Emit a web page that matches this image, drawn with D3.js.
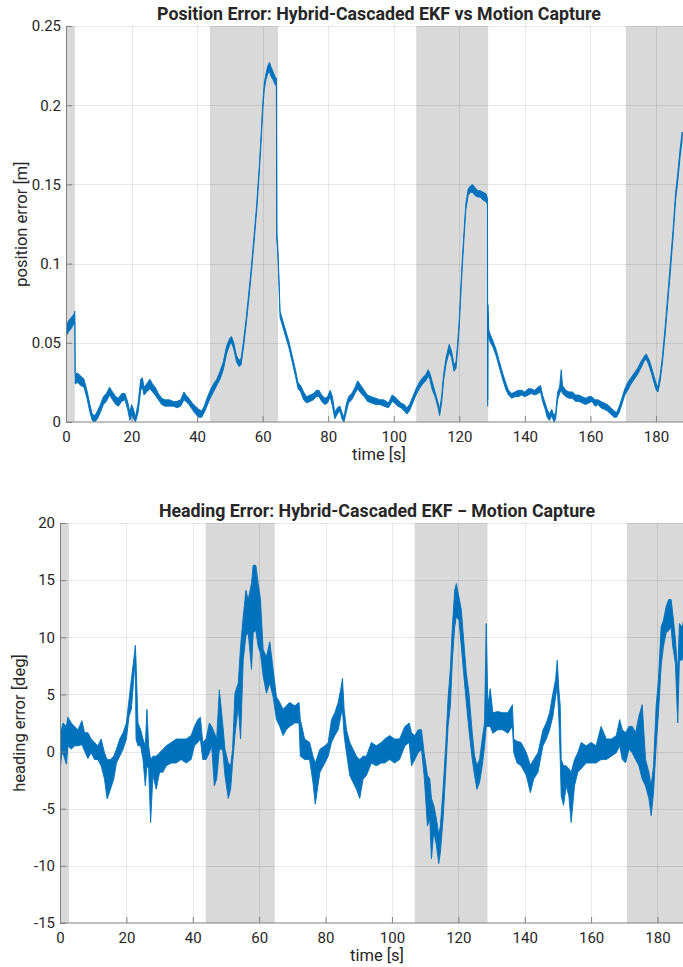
<!DOCTYPE html>
<html>
<head>
<meta charset="utf-8">
<script src="https://cdn.jsdelivr.net/npm/d3@7"></script>
<style>
  body { margin: 0; background: #fff; }
  text { font-family: Roboto, "Liberation Sans", Arial, sans-serif; fill: #262626; }
</style>
</head>
<body>
<svg id="fig" width="683" height="967"></svg>
<script>
// ---- shared time axis ----
const timeTicks = [0, 20, 40, 60, 80, 100, 120, 140, 160, 180];
const timeMax = 191;

// highlighted intervals (s)
const shadeStart = [0, 43.9, 106.85, 170.8];
const shadeEnd   = [2.7, 64.7, 128.8, 191];

// ---- position error [m]: sample time, lower and upper envelope of the noisy trace ----
const posTime = [
  0, 0.8, 1.6, 2.4, 2.7, 2.8, 3.5, 4.5, 5.5, 6.5, 7.3, 8.0,
  8.8, 9.6, 10.5, 11.4, 12.3, 13.3, 14.2, 15.2, 16.0, 17.0, 18.0, 18.8,
  19.5, 20.0, 20.6, 21.2, 22.0, 22.8, 23.3, 23.8, 24.6, 25.6, 26.4, 27.2,
  28.2, 29.2, 30.2, 31.5, 32.8, 33.8, 35.0, 36.0, 36.6, 37.5, 38.5, 39.5,
  40.5, 41.4, 42.2, 43.0, 44.0, 45.0, 46.0, 47.0, 48.0, 49.0, 50.0, 50.5,
  51.2, 52.0, 52.8, 53.4, 54.1, 55.0, 55.8, 56.6, 57.4, 58.2, 58.9, 59.5,
  60.0, 60.5, 61.0, 61.6, 62.1, 62.6, 63.2, 63.8, 64.2, 64.3, 64.6, 65.0,
  65.3, 66.0, 67.0, 68.0, 69.0, 70.0, 70.8, 71.6, 72.5, 73.4, 74.5, 75.5,
  76.4, 77.2, 78.0, 79.0, 79.8, 80.6, 81.3, 82.0, 82.8, 83.6, 84.2, 84.8,
  85.5, 86.2, 87.2, 88.2, 89.0, 90.0, 91.0, 92.0, 93.2, 94.5, 95.8, 97.0,
  98.4, 99.5, 100.3, 101.2, 102.2, 103.2, 104.0, 104.8, 105.8, 106.8, 107.8, 108.8,
  109.8, 110.5, 111.0, 111.8, 112.6, 113.4, 114.0, 114.6, 115.2, 116.0, 116.9, 117.6,
  118.4, 119.0, 119.5, 120.0, 120.5, 121.0, 121.5, 122.0, 122.7, 123.4, 124.0, 124.8,
  125.6, 126.4, 127.3, 128.2, 128.6, 128.65, 128.75, 129.0, 129.5, 130.3, 131.2, 132.0,
  132.8, 133.5, 134.3, 135.0, 136.0, 137.0, 138.0, 139.0, 140.0, 141.0, 142.0, 143.0,
  144.0, 144.8, 145.4, 146.2, 146.8, 147.5, 148.2, 148.9, 149.4, 150.0, 150.6, 151.1,
  151.5, 152.5, 153.5, 154.5, 155.5, 156.5, 157.5, 158.5, 159.5, 160.5, 161.4, 162.3,
  163.2, 164.2, 165.2, 166.2, 167.2, 168.0, 168.8, 169.6, 170.5, 171.4, 172.4, 173.4,
  174.4, 175.4, 176.3, 177.0, 177.8, 178.6, 179.4, 180.1, 180.6, 181.3, 182.0, 182.8,
  183.6, 184.4, 185.2, 186.0, 186.7, 187.4, 188.0
];
const posLow = [
  .054, .057, .059, .062, .063, .024, .025, .023, .022, .014, .006, .001,
  .000, .002, .006, .011, .013, .017, .014, .011, .010, .013, .014, .008,
  .001, .004, .002, .000, .006, .020, .022, .017, .019, .021, .019, .017,
  .014, .011, .010, .010, .010, .009, .010, .014, .013, .011, .008, .005,
  .003, .003, .006, .010, .015, .019, .023, .027, .033, .043, .049, .050,
  .046, .038, .035, .036, .046, .062, .078, .095, .114, .134, .155, .176,
  .196, .210, .216, .220, .221, .218, .216, .213, .212, .115, .108, .085,
  .066, .061, .054, .047, .038, .029, .021, .019, .014, .012, .013, .014,
  .016, .016, .013, .011, .012, .016, .010, .002, .005, .007, .002, .000,
  .006, .012, .014, .018, .021, .018, .016, .013, .012, .011, .011, .010,
  .009, .013, .012, .010, .009, .007, .005, .007, .012, .017, .021, .024,
  .026, .029, .027, .020, .016, .010, .004, .012, .026, .037, .044, .041,
  .032, .034, .046, .061, .082, .101, .118, .134, .143, .145, .145, .143,
  .142, .142, .140, .139, .137, .010, .068, .053, .050, .047, .042, .036,
  .030, .025, .020, .017, .015, .016, .016, .017, .016, .017, .018, .017,
  .018, .019, .013, .008, .003, .001, .004, .000, .002, .014, .018, .020,
  .018, .016, .015, .015, .013, .013, .012, .011, .012, .013, .010, .011,
  .009, .008, .007, .005, .003, .003, .006, .011, .017, .020, .024, .027,
  .030, .034, .038, .040, .036, .031, .025, .020, .019, .026, .038, .055,
  .075, .095, .116, .140, .153, .168, .178
];
const posHigh = [
  .060, .064, .066, .068, .070, .030, .031, .029, .027, .019, .011, .005,
  .004, .007, .011, .016, .018, .022, .019, .016, .015, .018, .018, .013,
  .006, .011, .008, .003, .012, .027, .028, .022, .024, .027, .024, .022,
  .018, .015, .014, .014, .013, .013, .014, .019, .017, .015, .012, .010,
  .008, .007, .010, .015, .020, .024, .027, .032, .038, .048, .053, .054,
  .050, .042, .039, .040, .050, .066, .082, .099, .118, .138, .159, .180,
  .200, .214, .220, .225, .227, .224, .221, .218, .217, .120, .112, .090,
  .070, .065, .058, .051, .042, .033, .025, .023, .019, .016, .017, .018,
  .020, .020, .017, .015, .016, .020, .016, .006, .009, .010, .006, .003,
  .011, .016, .018, .022, .026, .023, .020, .017, .016, .015, .014, .014,
  .012, .017, .016, .014, .012, .011, .009, .011, .016, .021, .025, .028,
  .030, .033, .031, .025, .019, .013, .008, .016, .030, .041, .049, .045,
  .036, .038, .050, .065, .086, .105, .122, .138, .147, .149, .150, .148,
  .146, .146, .145, .144, .141, .014, .074, .058, .055, .051, .046, .040,
  .034, .029, .024, .020, .018, .019, .020, .020, .019, .021, .021, .020,
  .022, .023, .017, .012, .008, .005, .008, .004, .006, .019, .022, .033,
  .023, .020, .019, .019, .017, .017, .016, .015, .016, .016, .014, .014,
  .013, .012, .011, .009, .007, .006, .010, .015, .021, .025, .028, .031,
  .034, .038, .041, .043, .040, .035, .029, .024, .022, .030, .042, .060,
  .080, .100, .121, .145, .158, .173, .183
];
const posTicks = [0, 0.05, 0.1, 0.15, 0.2, 0.25];
const posTickLabels = ["0", "0.05", "0.1", "0.15", "0.2", "0.25"];

// ---- heading error [deg]: sample time, lower and upper envelope ----
const headTime = [
  0, 0.5, 0.9, 1.9, 2.4, 3.4, 4.4, 5.4, 6.6, 7.4, 8.4, 9.4,
  10.4, 11.4, 12.4, 13.4, 14.2, 15.2, 16.2, 17.0, 18.0, 19.0, 20.0, 20.8,
  21.5, 22.2, 22.7, 22.9, 23.5, 24.3, 25.0, 25.7, 26.2, 26.7, 27.3, 28.0,
  29.0, 30.0, 31.0, 32.0, 33.5, 35.0, 36.5, 38.0, 39.5, 40.5, 41.5, 42.3,
  43.0, 44.0, 45.0, 45.7, 46.5, 47.2, 48.0, 49.0, 49.7, 50.7, 51.4, 52.0,
  52.7, 53.7, 54.4, 55.2, 56.0, 56.7, 57.7, 58.2, 59.0, 59.7, 60.4, 61.2,
  62.2, 63.2, 64.2, 65.2, 66.2, 67.2, 68.2, 69.2, 70.7, 72.0, 72.4, 73.7,
  75.2, 76.2, 76.9, 78.3, 79.8, 80.8, 81.8, 82.8, 83.8, 84.6, 85.1, 85.6,
  86.3, 87.3, 88.3, 89.3, 90.3, 91.3, 92.3, 93.8, 95.3, 96.8, 97.8, 99.3,
  100.8, 102.3, 103.9, 105.2, 105.9, 106.9, 107.9, 108.9, 109.7, 110.7, 111.4, 111.9,
  112.6, 113.4, 114.1, 114.6, 115.4, 116.2, 116.9, 117.6, 118.2, 118.9, 119.4, 120.2,
  120.9, 121.6, 122.4, 123.2, 124.2, 124.9, 125.6, 126.4, 127.2, 127.9, 128.4, 128.9,
  129.6, 130.4, 131.9, 133.4, 134.9, 136.3, 136.7, 137.7, 138.9, 140.5, 141.7, 142.7,
  144.0, 145.5, 146.5, 147.5, 148.5, 149.3, 149.8, 150.3, 150.7, 151.0, 151.7, 152.5,
  153.3, 154.0, 155.0, 156.0, 157.0, 158.5, 160.0, 161.5, 163.0, 164.6, 166.1, 167.6,
  168.6, 169.4, 170.4, 171.4, 172.4, 173.4, 174.4, 175.4, 176.4, 177.4, 178.1, 178.8,
  179.6, 180.3, 181.1, 181.8, 182.6, 183.4, 184.1, 184.6, 185.4, 186.1, 186.6, 187.4,
  188.3
];
const headLow = [
  -1.7, -0.3, -0.1, -1.1, 0.5, 0.2, 0.5, 0.5, 0.6, 0.05, -0.6, -0.1,
  -0.7, -0.7, -1.25, -2.4, -4.15, -3.3, -2.4, -1.0, -0.4, 0.2, 1.1, 3.1,
  3.7, 6.3, 8.0, 1.1, 0.5, 0.5, -0.7, -3.0, -1.25, -1.5, -6.2, -2.1,
  -3.3, -1.8, -1.8, -1.25, -1.0, -1.0, -0.7, -1.0, -0.7, 0.5, 0.8, 1.1,
  -0.7, -0.7, -0.1, 0.5, -3.0, -2.4, 0.2, 0.2, -2.1, -4.1, -3.3, -1.0,
  1.4, 4.0, 1.1, 8.0, 10.1, 10.4, 7.2, 10.4, 10.6, 9.2, 8.6, 6.6,
  5.1, 6.0, 4.8, 2.8, 2.2, 1.4, 1.9, 2.2, 2.5, 2.5, -0.4, -0.7,
  -0.7, -2.7, -4.6, -1.8, -1.0, -0.4, 0.8, 1.4, 1.9, 3.1, 3.7, 1.4,
  -0.1, -2.1, -2.7, -3.3, -4.1, -2.4, -2.1, -1.0, -1.25, -1.0, -1.0, -0.7,
  -1.0, -0.7, 0.5, 0.8, -1.25, -0.7, -0.1, 0.2, -2.1, -6.5, -5.9, -9.4,
  -7.0, -8.2, -9.8, -8.8, -5.9, -1.8, 2.2, 4.0, 8.0, 10.9, 11.8, 11.5,
  9.2, 6.9, 4.3, 1.9, -0.7, -2.1, -3.3, -2.7, -1.25, 0.5, 2.2, 2.2,
  2.2, 1.6, 1.9, 1.9, 1.6, 2.2, -0.1, -1.0, -1.25, -2.1, -3.6, -2.4,
  -1.8, 0.5, 1.1, 1.9, 3.1, 4.8, 5.7, 2.8, -0.7, -3.9, -4.7, -3.0,
  -3.9, -6.2, -3.0, -1.8, -1.5, -1.0, -1.0, -1.0, -0.7, -0.7, -0.4, -0.1,
  0.5, -0.7, -1.0, 0.2, -0.1, -0.7, -1.25, -2.4, -3.0, -4.1, -5.6, -3.6,
  0.5, 3.4, 7.5, 9.2, 10.4, 10.6, 10.9, 9.2, 7.7, 2.5, 8.0, 8.0,
  9.5
];
const headHigh = [
  1.65, 2.0, 2.5, 2.2, 3.0, 2.5, 2.2, 1.9, 2.7, 1.65, 1.65, 1.1,
  0.8, 0.5, 1.1, -0.1, -0.7, -0.7, -0.4, 0.2, 1.1, 1.65, 2.5, 4.55,
  6.3, 8.0, 9.3, 8.0, 2.5, 1.9, 1.1, 0.5, 3.7, 0.5, -0.7, -0.4,
  -0.4, -0.1, 0.2, 0.5, 0.8, 1.1, 1.1, 1.1, 1.4, 2.2, 2.8, 3.0,
  0.8, 1.1, 2.5, 2.2, 1.65, 1.1, 5.4, 2.5, 0.2, -1.0, -1.25, 0.2,
  5.1, 6.0, 9.2, 11.8, 14.1, 13.3, 14.7, 16.3, 16.3, 14.7, 13.3, 8.9,
  8.3, 9.6, 7.2, 4.8, 4.3, 3.7, 4.0, 4.3, 4.0, 4.3, 2.8, 1.1,
  0.8, -0.4, -1.0, 0.2, 0.5, 0.8, 2.8, 3.4, 4.3, 5.5, 6.4, 3.7,
  1.9, 0.8, 0.2, -0.4, -0.7, -0.4, -0.4, 0.8, 0.5, 0.8, 1.1, 1.4,
  1.1, 1.1, 2.2, 2.5, 1.65, 1.4, 1.9, 1.9, -0.1, -2.1, -2.4, -4.1,
  -4.7, -5.9, -7.3, -6.5, -3.3, 0.5, 4.6, 7.2, 10.9, 14.1, 14.7, 13.5,
  12.4, 9.8, 6.9, 5.1, 1.6, -0.4, -1.2, -0.7, 1.1, 2.5, 11.2, 4.0,
  5.5, 3.4, 3.5, 3.4, 3.4, 4.1, 1.1, 0.9, 0.8, -0.1, -1.2, -0.7,
  -0.1, 1.9, 2.5, 3.4, 5.1, 6.3, 8.0, 5.4, 4.0, -0.7, -1.25, -1.25,
  -1.5, -1.8, -0.7, -0.1, 0.8, 0.5, 0.8, 0.5, 2.2, 1.1, 1.1, 1.4,
  2.8, 1.9, 1.65, 2.2, 2.2, 1.65, 3.1, 4.1, -0.7, -1.8, -3.0, -1.25,
  4.0, 6.3, 10.9, 11.5, 12.7, 13.3, 13.3, 12.1, 9.8, 6.9, 11.2, 10.9,
  12.0
];
const headTicks = [-15, -10, -5, 0, 5, 10, 15, 20];
const headTickLabels = ["-15", "-10", "-5", "0", "5", "10", "15", "20"];

// ---- drawing ----
const svg = d3.select("#fig");
svg.append("rect").attr("width", 683).attr("height", 967).attr("fill", "#fff");

const lineColor = "#0072BD";

function panel(cfg) {
  const x = d3.scaleLinear().domain([0, timeMax]).range([cfg.left, cfg.right]);
  const y = d3.scaleLinear().domain(cfg.yDomain).range([cfg.bottom, cfg.top]);
  const g = svg.append("g");

  const clipId = "clip-" + cfg.id;
  g.append("clipPath").attr("id", clipId)
    .append("rect")
    .attr("x", cfg.left).attr("y", cfg.top)
    .attr("width", cfg.right - cfg.left).attr("height", cfg.bottom - cfg.top);

  // shaded intervals
  g.append("g").selectAll("rect")
    .data(shadeStart.map((s, i) => [s, shadeEnd[i]]))
    .join("rect")
    .attr("x", d => x(d[0]))
    .attr("width", d => x(d[1]) - x(d[0]))
    .attr("y", cfg.top)
    .attr("height", cfg.bottom - cfg.top)
    .attr("fill", "#d9d9d9");

  // grid
  const grid = g.append("g").attr("stroke", "#000").attr("stroke-opacity", 0.09).attr("stroke-width", 1);
  grid.selectAll(".gx").data(timeTicks.filter(t => t > 0)).join("line")
    .attr("x1", d => Math.round(x(d)) + 0.5).attr("x2", d => Math.round(x(d)) + 0.5)
    .attr("y1", cfg.top).attr("y2", cfg.bottom);
  grid.selectAll(".gy").data(cfg.ticks.filter(v => v !== cfg.yDomain[0])).join("line")
    .attr("y1", d => Math.round(y(d)) + 0.5).attr("y2", d => Math.round(y(d)) + 0.5)
    .attr("x1", cfg.left).attr("x2", cfg.right);

  // trace: envelope band plus its edges
  const samples = cfg.t.map((t, i) => ({ t, lo: cfg.lo[i], hi: cfg.hi[i] }));
  const band = d3.area().x(d => x(d.t)).y0(d => y(d.lo)).y1(d => y(d.hi));
  const plot = g.append("g").attr("clip-path", `url(#${clipId})`);
  plot.append("path").datum(samples)
    .attr("d", band)
    .attr("fill", lineColor)
    .attr("stroke", lineColor)
    .attr("stroke-width", 0.9)
    .attr("stroke-linejoin", "round");

  // axes with inward ticks
  const fmtY = d => cfg.tickLabels[cfg.ticks.indexOf(d)];
  const ax = g.append("g").attr("transform", `translate(0,${cfg.bottom})`)
    .call(d3.axisBottom(x).tickValues(timeTicks).tickSizeInner(-6).tickSizeOuter(0).tickPadding(9));
  const ay = g.append("g").attr("transform", `translate(${cfg.left},0)`)
    .call(d3.axisLeft(y).tickValues(cfg.ticks).tickFormat(fmtY).tickSizeInner(-6).tickSizeOuter(0).tickPadding(5));
  [ax, ay].forEach(a => {
    a.select(".domain").attr("stroke", "#808080");
    a.selectAll(".tick line").attr("stroke", "#808080");
    a.selectAll(".tick text").attr("fill", "#262626").style("font-size", "15px");
  });
  // extend the x axis line to the right edge of the axes
  ax.select(".domain").attr("d", `M${cfg.left},0H${cfg.right}`);

  // titles and labels
  const cx = (cfg.left + cfg.right) / 2;
  g.append("text").attr("x", cx).attr("y", cfg.top - 6)
    .attr("text-anchor", "middle").style("font-size", "17.8px").style("font-weight", "bold")
    .text(cfg.title);
  g.append("text").attr("x", cx).attr("y", cfg.bottom + 38)
    .attr("text-anchor", "middle").style("font-size", "16.5px")
    .text("time [s]");
  g.append("text")
    .attr("transform", `translate(${cfg.ylabelX},${(cfg.top + cfg.bottom) / 2}) rotate(-90)`)
    .attr("text-anchor", "middle").style("font-size", "16.5px")
    .text(cfg.ylabel);
}

panel({
  id: "pos", left: 66, right: 692, top: 26, bottom: 422,
  yDomain: [0, 0.25], ticks: posTicks, tickLabels: posTickLabels,
  t: posTime, lo: posLow, hi: posHigh,
  title: "Position Error: Hybrid-Cascaded EKF vs Motion Capture",
  ylabel: "position error [m]", ylabelX: 27
});

panel({
  id: "head", left: 60, right: 694, top: 523, bottom: 923,
  yDomain: [-15, 20], ticks: headTicks, tickLabels: headTickLabels,
  t: headTime, lo: headLow, hi: headHigh,
  title: "Heading Error: Hybrid-Cascaded EKF \u2212 Motion Capture",
  ylabel: "heading error [deg]", ylabelX: 25
});
</script>
</body>
</html>
